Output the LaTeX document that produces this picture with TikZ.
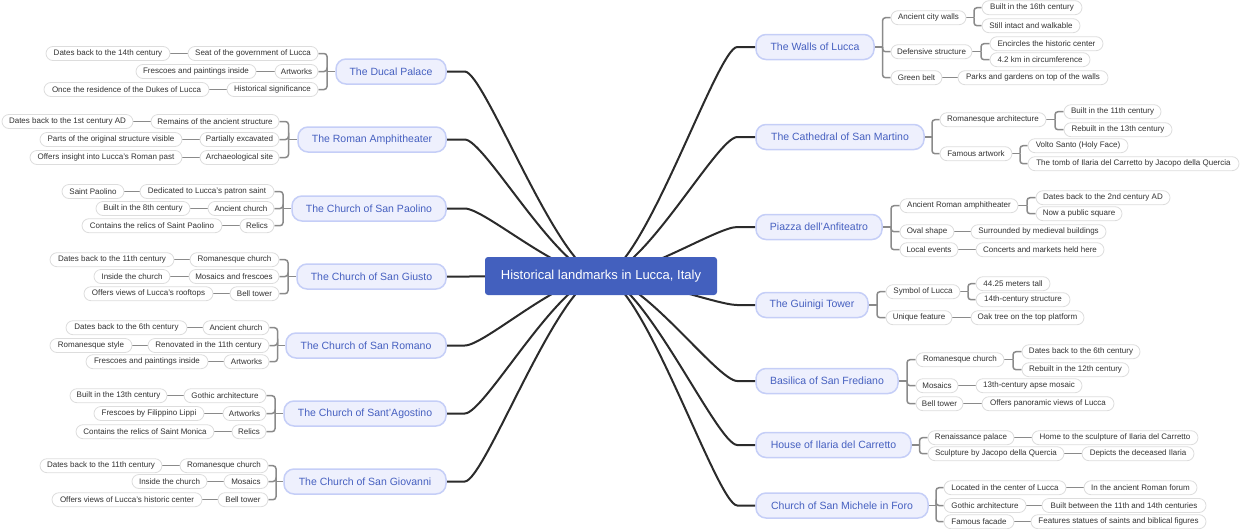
\documentclass[tikz,border=0pt]{standalone}
\usepackage{fontspec}
\setmainfont{Liberation Sans}
\usetikzlibrary{backgrounds}
\definecolor{rootfill}{HTML}{4360BE}
\definecolor{topicfill}{HTML}{EEF0FD}
\definecolor{topicline}{HTML}{C5CEF7}
\definecolor{topictext}{HTML}{4660C0}
\definecolor{leafline}{HTML}{DDDDDD}
\definecolor{leaftext}{HTML}{333333}
\definecolor{rootline}{HTML}{2B2B2B}
\definecolor{brline}{HTML}{8A8A8A}
\tikzset{
 leaf/.style={draw=leafline, line width=0.8pt, fill=white, rounded corners=7pt, minimum height=14pt, inner xsep=0pt, inner ysep=0pt, font=\fontsize{8}{9}\selectfont, text=leaftext},
 topic/.style={draw=topicline, line width=1.5pt, fill=topicfill, rounded corners=10pt, minimum height=25pt, inner xsep=0pt, inner ysep=0pt, font=\fontsize{10.5}{12}\selectfont, text=topictext},
 rootbox/.style={fill=rootfill, rounded corners=3pt, minimum width=232pt, minimum height=38pt, inner sep=0pt, font=\fontsize{13}{15}\selectfont, text=white},
 rl/.style={draw=rootline, line width=2pt},
 br/.style={draw=brline, line width=1.5pt},
}
\newcommand{\lf}[5]{\node[leaf, minimum width={(#3-#2)*1pt}] (#1) at ({(#2+#3)/2},#4) {#5};}
\newcommand{\tp}[5]{\node[topic, minimum width={(#3-#2)*1pt}] (#1) at ({(#2+#3)/2},#4) {#5};}
\newcommand{\brk}[4]{\coordinate (#2) at (#3); \draw[br] (#1) -- (#2); \foreach \c in {#4} {\draw[br, rounded corners=3pt] (#2) |- (\c);}}
\newcommand{\lnk}[2]{\draw[br] (#1) -- (#2);}
\begin{document}
\begin{tikzpicture}[x=1pt,y=-1pt]
\useasboundingbox (0,0) rectangle (1240,528);
\node[rootbox] (root) at (601,276) {Historical landmarks in Lucca, Italy};
% left topics
\tp{ducal}{336}{446}{71.5}{The Ducal Palace}
\tp{roman}{298}{446}{139.5}{The Roman Amphitheater}
\tp{paolino}{292}{446}{208.5}{The Church of San Paolino}
\tp{giusto}{297}{446}{276.5}{The Church of San Giusto}
\tp{romano}{286}{446}{345.5}{The Church of San Romano}
\tp{agostino}{284}{446}{413.5}{The Church of Sant'Agostino}
\tp{giovanni}{284}{446}{481.5}{The Church of San Giovanni}
% right topics
\tp{walls}{756}{874}{47}{The Walls of Lucca}
\tp{martino}{756}{924}{137}{The Cathedral of San Martino}
\tp{piazza}{756}{882}{227}{Piazza dell'Anfiteatro}
\tp{guinigi}{756}{868}{305}{The Guinigi Tower}
\tp{frediano}{756}{898}{381}{Basilica of San Frediano}
\tp{house}{756}{911}{445}{House of Ilaria del Carretto}
\tp{michele}{756}{928}{505.5}{Church of San Michele in Foro}
% Ducal
\lf{d1}{188}{318}{53.5}{Seat of the government of Lucca}
\lf{d2}{275}{318}{71.5}{Artworks}
\lf{d3}{227}{318}{89.5}{Historical significance}
\lf{d1a}{46}{170}{53.5}{Dates back to the 14th century}
\lf{d2a}{136}{256}{71.5}{Frescoes and paintings inside}
\lf{d3a}{44}{209}{89.5}{Once the residence of the Dukes of Lucca}
% Roman
\lf{r1}{151}{279}{121.5}{Remains of the ancient structure}
\lf{r2}{200}{279}{139.5}{Partially excavated}
\lf{r3}{200}{279}{157.5}{Archaeological site}
\lf{r1a}{2}{133}{121.5}{Dates back to the 1st century AD}
\lf{r2a}{40}{182}{139.5}{Parts of the original structure visible}
\lf{r3a}{30}{182}{157.5}{Offers insight into Lucca's Roman past}
% Paolino
\lf{p1}{140}{274}{191.5}{Dedicated to Lucca's patron saint}
\lf{p2}{208}{274}{208.5}{Ancient church}
\lf{p3}{240}{274}{225.7}{Relics}
\lf{p1a}{62}{124}{191.5}{Saint Paolino}
\lf{p2a}{96}{190}{208.5}{Built in the 8th century}
\lf{p3a}{82}{222}{225.7}{Contains the relics of Saint Paolino}
% Giusto
\lf{g1}{190}{279}{259.7}{Romanesque church}
\lf{g2}{189}{279}{276.5}{Mosaics and frescoes}
\lf{g3}{230}{279}{293.7}{Bell tower}
\lf{g1a}{50}{174}{259.7}{Dates back to the 11th century}
\lf{g2a}{94}{170}{276.5}{Inside the church}
\lf{g3a}{84}{213}{293.7}{Offers views of Lucca's rooftops}
% Romano
\lf{o1}{203}{269}{327.7}{Ancient church}
\lf{o2}{148}{269}{345.5}{Renovated in the 11th century}
\lf{o3}{224}{269}{361.7}{Artworks}
\lf{o1a}{66}{187}{327.7}{Dates back to the 6th century}
\lf{o2a}{50}{132}{345.5}{Romanesque style}
\lf{o3a}{86}{208}{361.7}{Frescoes and paintings inside}
% Agostino
\lf{a1}{184}{266}{395.7}{Gothic architecture}
\lf{a2}{223}{266}{413.5}{Artworks}
\lf{a3}{232}{266}{431.7}{Relics}
\lf{a1a}{70}{167}{395.7}{Built in the 13th century}
\lf{a2a}{94}{204}{413.5}{Frescoes by Filippino Lippi}
\lf{a3a}{76}{214}{431.7}{Contains the relics of Saint Monica}
% Giovanni
\lf{v1}{180}{268}{465.7}{Romanesque church}
\lf{v2}{224}{268}{481.5}{Mosaics}
\lf{v3}{218}{268}{499.7}{Bell tower}
\lf{v1a}{40}{162}{465.7}{Dates back to the 11th century}
\lf{v2a}{132}{207}{481.5}{Inside the church}
\lf{v3a}{52}{202}{499.7}{Offers views of Lucca's historic center}
% Walls
\lf{w1}{891}{966}{17.7}{Ancient city walls}
\lf{w2}{891}{972}{51.7}{Defensive structure}
\lf{w3}{891}{942}{77.7}{Green belt}
\lf{w1a}{982}{1082}{7.7}{Built in the 16th century}
\lf{w1b}{982}{1080}{25.7}{Still intact and walkable}
\lf{w2a}{990}{1103}{43.7}{Encircles the historic center}
\lf{w2b}{990}{1090}{59.7}{4.2 km in circumference}
\lf{w3a}{958}{1108}{77.7}{Parks and gardens on top of the walls}
% Martino
\lf{m1}{940}{1046}{119.7}{Romanesque architecture}
\lf{m2}{940}{1012}{153.7}{Famous artwork}
\lf{m1a}{1064}{1161}{111.7}{Built in the 11th century}
\lf{m1b}{1064}{1172}{129.7}{Rebuilt in the 13th century}
\lf{m2a}{1028}{1128}{145.7}{Volto Santo (Holy Face)}
\lf{m2b}{1028}{1239}{163.7}{The tomb of Ilaria del Carretto by Jacopo della Quercia}
% Piazza
\lf{z1}{900}{1018}{205.7}{Ancient Roman amphitheater}
\lf{z2}{900}{954}{231.7}{Oval shape}
\lf{z3}{900}{958}{249.7}{Local events}
\lf{z1a}{1036}{1170}{197.7}{Dates back to the 2nd century AD}
\lf{z1b}{1036}{1122}{213.7}{Now a public square}
\lf{z2a}{971}{1106}{231.7}{Surrounded by medieval buildings}
\lf{z3a}{976}{1104}{249.7}{Concerts and markets held here}
% Guinigi
\lf{u1}{886}{960}{291.7}{Symbol of Lucca}
\lf{u2}{886}{952}{317.7}{Unique feature}
\lf{u1a}{976}{1050}{283.7}{44.25 meters tall}
\lf{u1b}{976}{1070}{299.7}{14th-century structure}
\lf{u2a}{971}{1084}{317.7}{Oak tree on the top platform}
% Frediano
\lf{f1}{916}{1004}{359.7}{Romanesque church}
\lf{f2}{916}{958}{385.7}{Mosaics}
\lf{f3}{916}{963}{403.7}{Bell tower}
\lf{f1a}{1022}{1140}{351.7}{Dates back to the 6th century}
\lf{f1b}{1022}{1129}{369.7}{Rebuilt in the 12th century}
\lf{f2a}{976}{1082}{385.7}{13th-century apse mosaic}
\lf{f3a}{982}{1114}{403.7}{Offers panoramic views of Lucca}
% House
\lf{h1}{928}{1014}{437.7}{Renaissance palace}
\lf{h2}{928}{1064}{453.7}{Sculpture by Jacopo della Quercia}
\lf{h1a}{1032}{1198}{437.7}{Home to the sculpture of Ilaria del Carretto}
\lf{h2a}{1082}{1194}{453.7}{Depicts the deceased Ilaria}
% Michele
\lf{c1}{944}{1066}{487.7}{Located in the center of Lucca}
\lf{c2}{944}{1026}{505.5}{Gothic architecture}
\lf{c3}{944}{1014}{521.7}{Famous facade}
\lf{c1a}{1084}{1197}{487.7}{In the ancient Roman forum}
\lf{c2a}{1042}{1206}{505.5}{Built between the 11th and 14th centuries}
\lf{c3a}{1031}{1206}{521.7}{Features statues of saints and biblical figures}
\begin{scope}[on background layer]
% root connectors
\foreach \t in {ducal,roman,paolino,giusto,romano,agostino,giovanni}
  {\draw[rl] (\t.east) -- ++(18,0) .. controls +(20,0) and +(-41,0) .. (root.center);}
\foreach \t in {walls,martino,piazza,guinigi,frediano,house,michele}
  {\draw[rl] (\t.west) -- ++(-18,0) .. controls +(-20,0) and +(41,0) .. (root.center);}
% left brackets
\brk{ducal}{jd}{327,71.5}{d1,d2,d3}
\brk{roman}{jr}{288.5,139.5}{r1,r2,r3}
\brk{paolino}{jp}{283,208.5}{p1,p2,p3}
\brk{giusto}{jg}{288,276.5}{g1,g2,g3}
\brk{romano}{jo}{277.5,345.5}{o1,o2,o3}
\brk{agostino}{ja}{275,413.5}{a1,a2,a3}
\brk{giovanni}{jv}{276,481.5}{v1,v2,v3}
\foreach \a/\b in {d1/d1a,d2/d2a,d3/d3a,r1/r1a,r2/r2a,r3/r3a,p1/p1a,p2/p2a,p3/p3a,g1/g1a,g2/g2a,g3/g3a,o1/o1a,o2/o2a,o3/o3a,a1/a1a,a2/a2a,a3/a3a,v1/v1a,v2/v2a,v3/v3a}
  {\lnk{\a}{\b}}
% right brackets
\brk{walls}{jw}{882.5,47}{w1,w2,w3}
\brk{w1}{jw1}{974,17.7}{w1a,w1b}
\brk{w2}{jw2}{981,51.7}{w2a,w2b}
\brk{martino}{jm}{932,137}{m1,m2}
\brk{m1}{jm1}{1055,119.7}{m1a,m1b}
\brk{m2}{jm2}{1020,153.7}{m2a,m2b}
\brk{piazza}{jz}{891,227}{z1,z2,z3}
\brk{z1}{jz1}{1027,205.7}{z1a,z1b}
\brk{guinigi}{ju}{877,305}{u1,u2}
\brk{u1}{ju1}{968,291.7}{u1a,u1b}
\brk{frediano}{jf}{907,381}{f1,f2,f3}
\brk{f1}{jf1}{1013,359.7}{f1a,f1b}
\brk{house}{jh}{919.5,445}{h1,h2}
\brk{michele}{jc}{936,505.5}{c1,c2,c3}
\foreach \a/\b in {w3/w3a,z2/z2a,z3/z3a,u2/u2a,f2/f2a,f3/f3a,h1/h1a,h2/h2a,c1/c1a,c2/c2a,c3/c3a}
  {\lnk{\a}{\b}}
\end{scope}
\end{tikzpicture}
\end{document}
